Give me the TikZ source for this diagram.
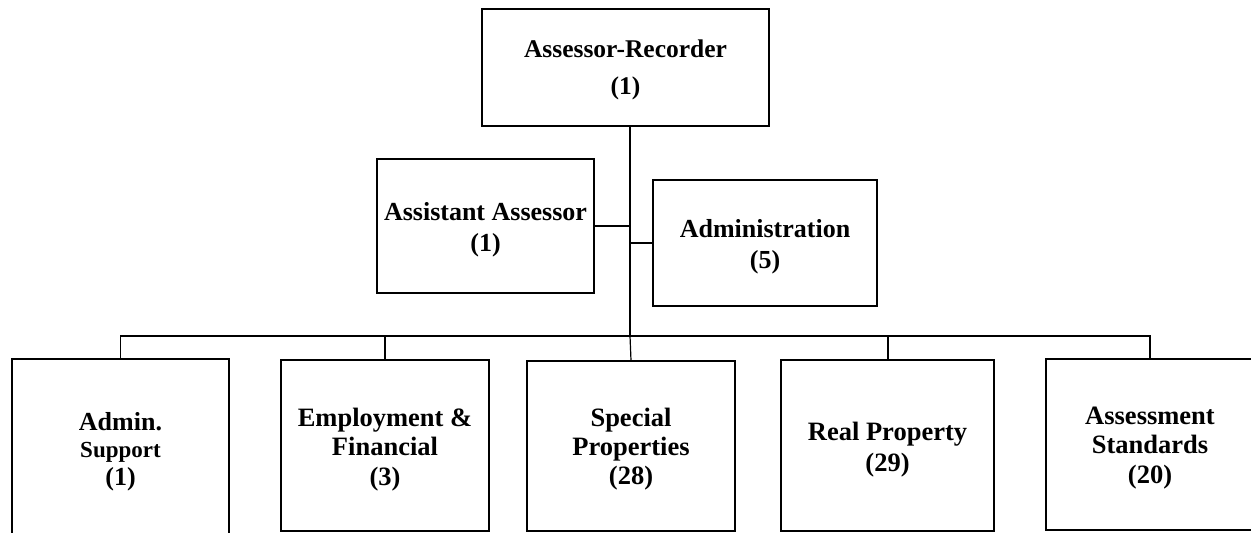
\documentclass[tikz,border=0pt]{standalone}
\usepackage{fontspec}
\setmainfont{Liberation Serif}
\begin{document}
\begin{tikzpicture}[x=1pt,y=-1pt,
  box/.style={draw=black,line width=1.3pt,fill=white,rectangle,inner sep=0pt},
  label/.style={anchor=base,inner sep=0pt,align=center},
  thinline/.style={draw=black,line width=1.2pt},
  thickline/.style={draw=black,line width=2pt}]
\useasboundingbox (0,0) rectangle (1251,533);
\clip (0,0) rectangle (1251,533);
\fill[white] (0,0) rectangle (1251,533);
% boxes
\node[box,minimum width=287pt,minimum height=117pt] (ar) at (625.5,67.5) {};
\node[box,minimum width=217pt,minimum height=134pt] (aa) at (485.5,226) {};
\node[box,minimum width=224pt,minimum height=126pt] (adm) at (765,243) {};
\node[box,minimum width=217pt,minimum height=186pt] (as) at (120.5,452) {};
\node[box,minimum width=208pt,minimum height=171pt] (ef) at (385,445.5) {};
\node[box,minimum width=208pt,minimum height=170pt] (sp) at (631,446) {};
\node[box,minimum width=213pt,minimum height=171pt] (rp) at (887.5,445.5) {};
\node[box,minimum width=208pt,minimum height=171pt] (asst) at (1150,444.5) {};
% texts (anchor = baseline of last line)
\node[label,font=\bfseries\fontsize{25.5}{37}\selectfont] (art) at (625.5,94) {Assessor-Recorder\\(1)};
\node[label,font=\bfseries\fontsize{26}{31}\selectfont] (aat) at (485.5,251) {Assistant Assessor\\(1)};
\node[label,font=\bfseries\fontsize{26}{31}\selectfont] (admt) at (765,268) {Administration\\(5)};
\node[label,font=\bfseries\fontsize{26}{27.5}\selectfont] (ast) at (120.5,485) {Admin.\\{\fontsize{23}{27.5}\selectfont Support}\\(1)};
\node[label,font=\bfseries\fontsize{26.5}{29.5}\selectfont] (eft) at (385,485) {Employment \&\\Financial\\(3)};
\node[label,font=\bfseries\fontsize{26.5}{29}\selectfont] (spt) at (631,484) {Special\\Properties\\(28)};
\node[label,font=\bfseries\fontsize{26.5}{31}\selectfont] (rpt) at (887.5,471) {Real Property\\(29)};
\node[label,font=\bfseries\fontsize{26.5}{29.5}\selectfont] (asstt) at (1150,483) {Assessment\\Standards\\(20)};
% connectors
\coordinate (jn) at (630,336);
\draw[thickline] (ar.south -| jn) -- (jn);
\draw[thinline] (aa.east) -- (aa.east -| jn);
\draw[thinline] (adm.west) -- (adm.west -| jn);
\draw[thinline] (jn) -| (as.north);
\draw[thickline] (jn) -| (ef.north);
\draw[thinline] (ef.north |- jn) -- (ef.north);
\draw[thinline] (jn) -- (sp.north);
\draw[thickline] (jn) -| (rp.north);
\draw[thinline] (rp.north |- jn) -- (rp.north);
\draw[thinline] (jn) -| (asst.north);
\end{tikzpicture}
\end{document}
